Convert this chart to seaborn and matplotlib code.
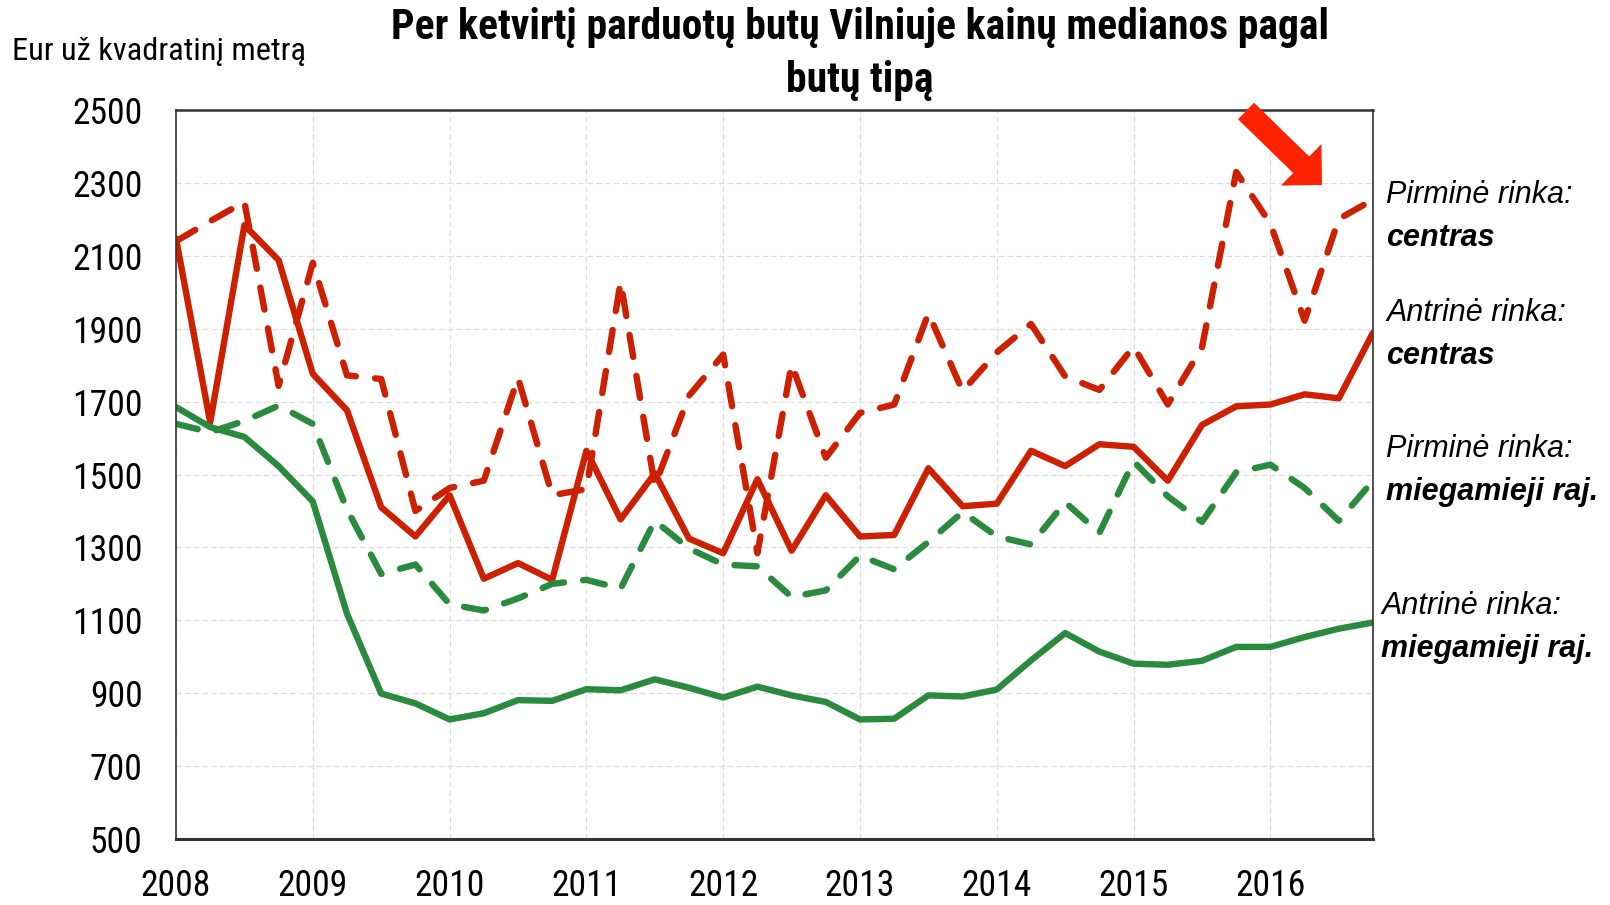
import numpy as np
import pandas as pd
import matplotlib
matplotlib.use("Agg")
import matplotlib.pyplot as plt
from matplotlib import font_manager
from matplotlib.patches import FancyArrow
from matplotlib.transforms import IdentityTransform
import seaborn as sns

# quarterly medians, 2008 Q1 .. 2016 Q4 (EUR per m2)
years = list(range(2008, 2017))
quarters = [1, 2, 3, 4]

pirmine_centras = [2140, 2195, 2248, 1743, 2081, 1772, 1762, 1400, 1463, 1483, 1765, 1443,
                   1460, 2028, 1470, 1716, 1829, 1284, 1802, 1546, 1669, 1692, 1942, 1729,
                   1835, 1913, 1769, 1732, 1851, 1692, 1849, 2330, 2188, 1922, 2201, 2254]
antrine_centras = [2148, 1643, 2184, 2088, 1776, 1676, 1410, 1330, 1443, 1214, 1257, 1211,
                   1565, 1377, 1503, 1324, 1284, 1487, 1291, 1443, 1330, 1334, 1517, 1413,
                   1420, 1565, 1523, 1583, 1576, 1483, 1636, 1687, 1692, 1720, 1709, 1889]
pirmine_miegamieji = [1639, 1616, 1647, 1689, 1639, 1404, 1227, 1253, 1144, 1127, 1160, 1200,
                      1211, 1187, 1373, 1297, 1253, 1248, 1164, 1182, 1277, 1240, 1315, 1397,
                      1330, 1308, 1424, 1340, 1536, 1440, 1370, 1506, 1527, 1463, 1373, 1483]
antrine_miegamieji = [1685, 1630, 1603, 1523, 1426, 1118, 899, 872, 828, 845, 881, 879,
                      911, 908, 938, 915, 888, 918, 894, 876, 828, 830, 894, 891,
                      910, 990, 1065, 1014, 981, 978, 989, 1027, 1027, 1054, 1077, 1094]

series_names = ["Pirminė centras", "Antrinė centras", "Pirminė miegamieji", "Antrinė miegamieji"]
series_values = [pirmine_centras, antrine_centras, pirmine_miegamieji, antrine_miegamieji]

y_ticks = list(range(500, 2501, 200))

RED = "#CC2000"
GREEN = "#2A8A3E"

t = [y + (q - 1) / 4 for y in years for q in quarters]
df = pd.concat([pd.DataFrame({"t": t, "value": v, "series": n})
                for n, v in zip(series_names, series_values)], ignore_index=True)

# pick a narrow font if one is around, otherwise shrink Liberation Sans
installed = font_manager.fontManager.ttflist
names = {f.name for f in installed}
if "Liberation Sans Narrow" in names:
    narrow, stretch, k = "Liberation Sans Narrow", "normal", 1.0
elif "Roboto Condensed" in names:
    narrow, stretch, k = "Roboto Condensed", "normal", 0.95
elif any(f.name == "DejaVu Sans" and f.stretch == "condensed" for f in installed):
    narrow, stretch, k = "DejaVu Sans", "condensed", 0.82
else:
    narrow, stretch, k = "Liberation Sans", "normal", 0.82

sns.set_style("white")
plt.rcParams["font.family"] = [narrow, "DejaVu Sans"]
plt.rcParams["font.stretch"] = stretch
plt.rcParams["text.color"] = "black"
plt.rcParams["xtick.color"] = "black"
plt.rcParams["ytick.color"] = "black"
plt.rcParams["lines.dash_capstyle"] = "round"
plt.rcParams["lines.solid_joinstyle"] = "round"

fig = plt.figure(figsize=(16.1, 9.05), dpi=100)
ax = fig.add_axes([176 / 1610, 1 - 839 / 905, (1373 - 176) / 1610, (839 - 110) / 905])

sns.lineplot(data=df, x="t", y="value", hue="series", style="series",
             hue_order=series_names, style_order=series_names,
             palette={series_names[0]: RED, series_names[1]: RED,
                      series_names[2]: GREEN, series_names[3]: GREEN},
             dashes={series_names[0]: (3.5, 3), series_names[1]: "",
                     series_names[2]: (3.5, 3), series_names[3]: ""},
             linewidth=4.6, legend=False, ax=ax)

ax.set_xlim(2008, 2016.75)
ax.set_ylim(500, 2500)
ax.set_xticks(years)
ax.set_xticklabels([str(y) for y in years])
ax.set_yticks(y_ticks)
ax.set_xlabel("")
ax.set_ylabel("")
ax.tick_params(axis="y", length=0, pad=24, labelsize=27 * k)
ax.tick_params(axis="x", length=0, pad=21, labelsize=27 * k)
ax.grid(True, color="#dddddd", linestyle=(0, (4, 3)), linewidth=0.9)
for side, sp in ax.spines.items():
    sp.set_visible(True)
    sp.set_color("#333333")
    sp.set_linewidth(1.2)
ax.spines["bottom"].set_linewidth(2.2)
ax.spines["top"].set_linewidth(1.8)

fig.text(860 / 1610, 1 - 54 / 905,
         "Per ketvirtį parduotų butų Vilniuje kainų medianos pagal\nbutų tipą",
         ha="center", va="center", fontsize=31.5 * k, fontweight="bold", linespacing=1.35)
fig.text(12 / 1610, 1 - 52 / 905, "Eur už kvadratinį metrą",
         ha="left", va="center", fontsize=24.5 * k)

labels = [("Pirminė rinka:", "centras", 1386, 195),
          ("Antrinė rinka:", "centras", 1386, 313),
          ("Pirminė rinka:", "miegamieji raj.", 1386, 449),
          ("Antrinė rinka:", "miegamieji raj.", 1381, 606)]
for top, bottom, px, py in labels:
    fig.text(px / 1610, 1 - py / 905, top, ha="left", va="center",
             fontsize=22, style="italic", family=["Liberation Sans", "DejaVu Sans"],
             stretch="normal")
    fig.text(px / 1610, 1 - (py + 43) / 905, bottom, ha="left", va="center",
             fontsize=22, style="italic", fontweight="bold",
             family=["Liberation Sans", "DejaVu Sans"], stretch="normal")

# fat arrow pointing at the recent drop (drawn in output pixels)
arrow = FancyArrow(1246, 905 - 111, 76, -74, width=23, head_width=58, head_length=29,
                   length_includes_head=True, color="#FF2200", lw=0,
                   transform=IdentityTransform(), clip_on=False)
fig.patches.append(arrow)
arrow.set_figure(fig)

fig.savefig("out.png", dpi=100)
